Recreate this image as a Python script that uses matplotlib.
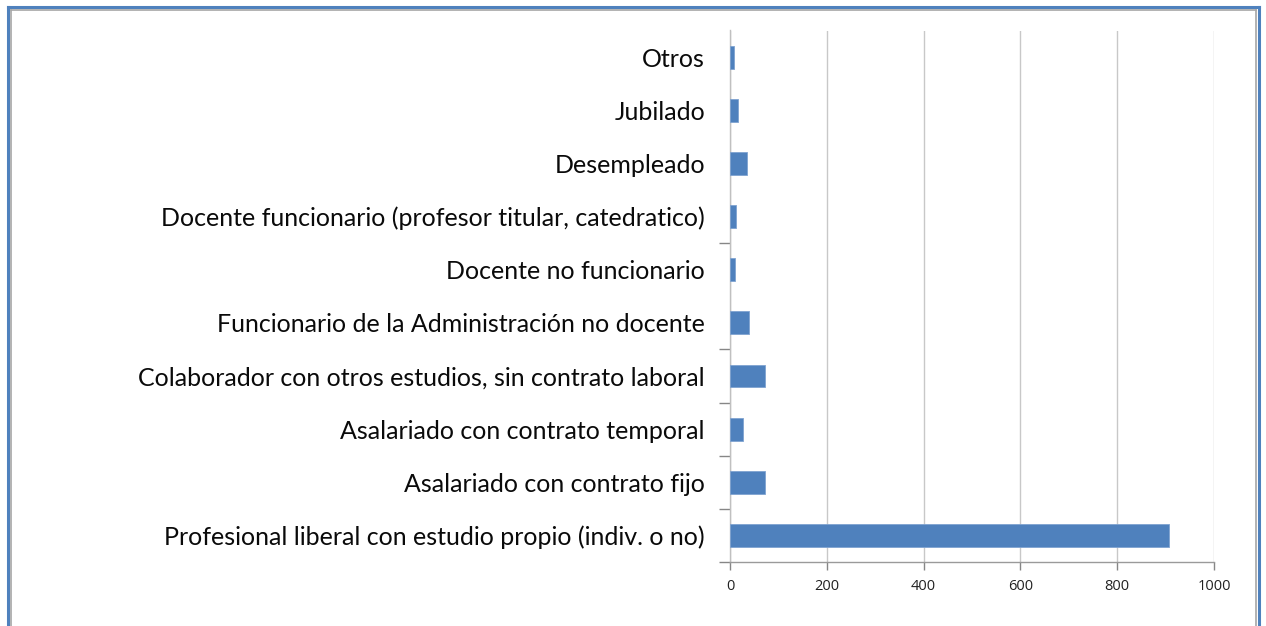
import matplotlib
matplotlib.use("Agg")
import matplotlib.pyplot as plt
from matplotlib.lines import Line2D
import numpy as np

categories = [
    "Profesional liberal con estudio propio (indiv. o no)",
    "Asalariado con contrato fijo",
    "Asalariado con contrato temporal",
    "Colaborador con otros estudios, sin contrato laboral",
    "Funcionario de la Administración no docente",
    "Docente no funcionario",
    "Docente funcionario (profesor titular, catedratico)",
    "Desempleado",
    "Jubilado",
    "Otros",
]
values = [907, 73, 26, 73, 39, 10, 13, 36, 16, 9]
x_ticks = [0, 200, 400, 600, 800, 1000]

W, H = 1266, 626
fig = plt.figure(figsize=(W / 100, H / 100), dpi=100)
fig.patch.set_facecolor("white")

left, right, top, bottom = 730, 1214, 30.5, 562
ax = fig.add_axes([left / W, 1 - bottom / H, (right - left) / W, (bottom - top) / H])

y = np.arange(len(categories))
ax.barh(y, values, height=0.43, color="#4F81BD", edgecolor="#7fa3d1", linewidth=0.6, zorder=3)

ax.set_xlim(0, 1000)
ax.set_ylim(-0.5, len(categories) - 0.5)
ax.set_xticks(x_ticks)
ax.set_xticklabels([str(t) for t in x_ticks], fontsize=10.5, family="Open Sans", color="#222222")
ax.set_yticks(y)
ax.set_yticklabels(categories, fontsize=18, family="Lato", color="#0a0a0a")
ax.tick_params(axis="y", length=0, pad=18)
ax.set_yticks([-0.5, 0.5, 1.5, 2.5, 3.5, 5.5], minor=True)
ax.tick_params(axis="y", which="minor", length=8, color="#868686", width=1)
ax.tick_params(axis="x", length=6, color="#868686", width=1, pad=6.5)

ax.grid(axis="x", color="#c8c8c8", linewidth=1, zorder=0)
for side in ["top", "right"]:
    ax.spines[side].set_visible(False)
ax.spines["left"].set_color("#c0c0c0")
ax.spines["bottom"].set_color("#9a9a9a")
for side in ["left", "bottom"]:
    ax.spines[side].set_linewidth(1)

# outer frame
def fx(px):
    return px / W
def fy(py):
    return 1 - py / H
blue = "#4F81BD"
gray = "#a6a6a6"
fig.add_artist(Line2D([fx(8), fx(8)], [fy(7), 0], color=blue, linewidth=2.2))
fig.add_artist(Line2D([fx(8), fx(1258.5)], [fy(7), fy(7)], color=blue, linewidth=2.2))
fig.add_artist(Line2D([fx(1258.5), fx(1258.5)], [fy(7), 0], color=blue, linewidth=2.2))
fig.add_artist(Line2D([fx(10.5), fx(10.5)], [fy(9.5), 0], color=gray, linewidth=1.2))
fig.add_artist(Line2D([fx(10.5), fx(1256)], [fy(9.5), fy(9.5)], color=gray, linewidth=1.2))
fig.add_artist(Line2D([fx(1256), fx(1256)], [fy(9.5), 0], color=gray, linewidth=1.2))

fig.savefig("out.png", dpi=100, facecolor="white")
